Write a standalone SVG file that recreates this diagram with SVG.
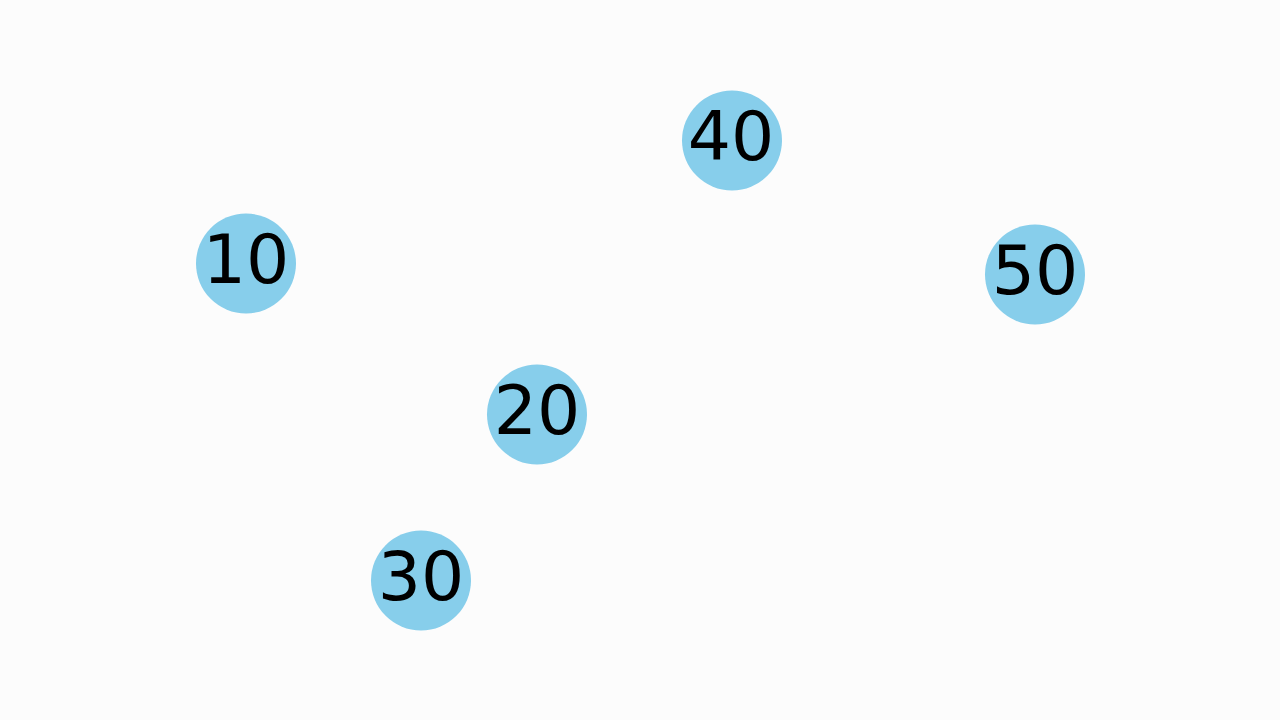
<svg xmlns="http://www.w3.org/2000/svg" width="1280" height="720" viewBox="0 0 1280 720">
<style>
.node circle{fill:#87ceeb}
.node text{font-family:"DejaVu Sans",sans-serif;font-size:68px;fill:#000;text-anchor:middle}
</style>
<rect width="1280" height="720" fill="#fcfcfc"/>
<g id="connectors"></g>
<g id="node-40" class="node"><circle cx="732" cy="140.5" r="50"/><text x="731" y="160">40</text></g>
<g id="node-10" class="node"><circle cx="246" cy="263.5" r="50"/><text x="246" y="283">10</text></g>
<g id="node-50" class="node"><circle cx="1035" cy="274.5" r="50"/><text x="1035" y="294">50</text></g>
<g id="node-20" class="node"><circle cx="537" cy="414.5" r="50"/><text x="537" y="434">20</text></g>
<g id="node-30" class="node"><circle cx="421" cy="580.5" r="50"/><text x="421" y="600">30</text></g>
</svg>
